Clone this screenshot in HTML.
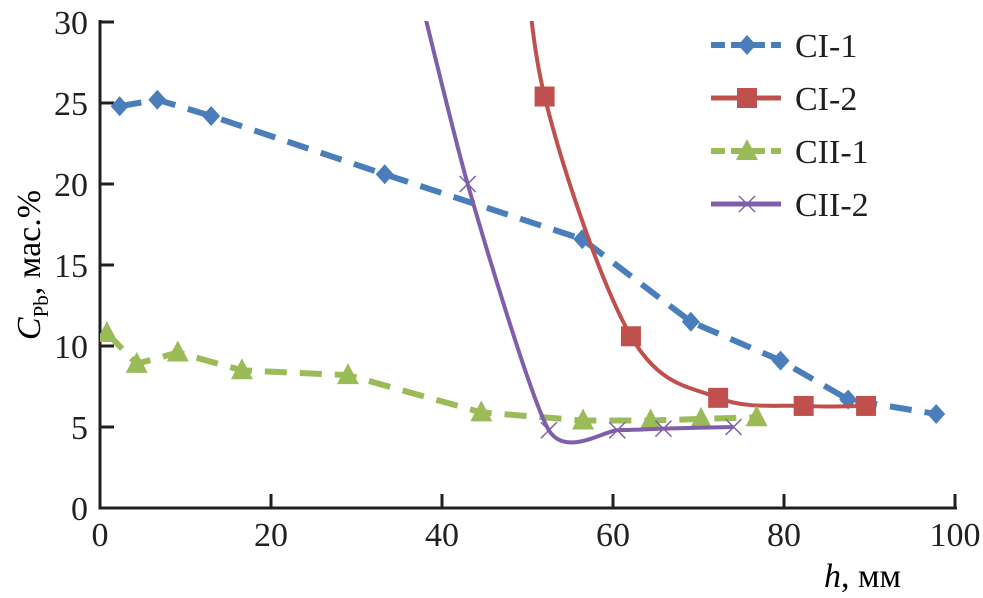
<!DOCTYPE html>
<html><head><meta charset="utf-8"><style>
body{margin:0;background:#fff;}
svg{display:block;font-family:"Liberation Serif",serif;}
</style></head><body>
<svg id="chart" width="983" height="598" viewBox="0 0 983 598">
<defs><clipPath id="plotclip"><rect x="100" y="21" width="860" height="487"/></clipPath></defs>
<g id="axes"></g>
<g id="series" clip-path="url(#plotclip)"></g>
<g id="legend"></g>
<text x="824" y="587" font-size="34"><tspan font-style="italic">h</tspan>, мм</text>
<text transform="translate(40,265) rotate(-90)" text-anchor="middle" font-size="34"><tspan font-style="italic">C</tspan><tspan font-size="21" dy="8">Pb</tspan><tspan dy="-8">, мас.%</tspan></text>
</svg>
<script>
const xTicks=[0,20,40,60,80,100];
const yTicks=[0,5,10,15,20,25,30];
const ci1X=[2.3,6.7,13,33.3,56.4,69.1,79.6,87.5,97.8];
const ci1Y=[24.8,25.2,24.2,20.6,16.6,11.5,9.1,6.7,5.8];
const ci2X=[49.3,52,62.1,72.3,82.3,89.6];
const ci2Y=[38,25.4,10.6,6.8,6.3,6.3];
const cii1X=[0.8,4.3,9.1,16.6,29,44.6,56.5,64.4,70.3,76.8];
const cii1Y=[10.8,8.9,9.6,8.5,8.2,5.9,5.4,5.4,5.5,5.6];
const cii2X=[34.5,43,52.5,60.5,65.9,74.1];
const cii2Y=[38,20,4.8,4.8,4.9,5.0];
const legendLabels=["CI-1","CI-2","CII-1","CII-2"];

const NS="http://www.w3.org/2000/svg";
const X0=100,X1=955,Y0=508,Y1=22;
function sx(v){return X0+(X1-X0)*v/100;}
function sy(v){return Y0-(Y0-Y1)*v/30;}
function mk(tag,attrs,parent){const e=document.createElementNS(NS,tag);for(const k in attrs)e.setAttribute(k,attrs[k]);parent.appendChild(e);return e;}
const axes=document.getElementById('axes'),ser=document.getElementById('series'),leg=document.getElementById('legend');

let ln=mk('path',{d:`M${X0},${Y1-2} V${Y0} H${X1+2}`,stroke:'#231f20','stroke-width':3,fill:'none'},axes);


xTicks.forEach(t=>{
 const l=mk('line',{x1:sx(t),x2:sx(t),y1:Y0,y2:Y0-14,stroke:'#231f20','stroke-width':3},axes);
 
 
 const tx=mk('text',{x:sx(t),y:Y0+38,'text-anchor':'middle','font-size':34,fill:'#231f20'},axes);
 tx.textContent=t;
 
 
});
yTicks.forEach(t=>{
 const l=mk('line',{x1:X0,x2:X0+14,y1:sy(t),y2:sy(t),stroke:'#231f20','stroke-width':3},axes);
 
 
 const tx=mk('text',{x:X0-12,y:sy(t)+12,'text-anchor':'end','font-size':34,fill:'#231f20'},axes);
 tx.textContent=t;
 
 
});

function linePath(xs,ys){return xs.map((x,i)=>(i?'L':'M')+sx(x)+','+sy(ys[i])).join(' ');}
function smoothPath(xs,ys,f){
 const p=xs.map((x,i)=>[sx(x),sy(ys[i])]);
 let d='M'+p[0][0]+','+p[0][1];
 for(let i=0;i<p.length-1;i++){
  const a=p[i-1]||p[i],b=p[i],c=p[i+1],e=p[i+2]||c;
  const c1=[b[0]+(c[0]-a[0])*f,b[1]+(c[1]-a[1])*f],c2=[c[0]-(e[0]-b[0])*f,c[1]-(e[1]-b[1])*f];
  d+=` C${c1[0]},${c1[1]} ${c2[0]},${c2[1]} ${c[0]},${c[1]}`;
 }
 return d;
}
function marker(kind,x,y,color,parent){
 let m;
 if(kind==='diamond')m=mk('path',{d:`M${x},${y-10} L${x+9},${y} L${x},${y+10} L${x-9},${y} Z`,fill:color},parent);
 else if(kind==='square')m=mk('rect',{x:x-10,y:y-10,width:20,height:20,fill:color},parent);
 else if(kind==='tri')m=mk('path',{d:`M${x},${y-12} L${x+11},${y+9} L${x-11},${y+9} Z`,fill:color},parent);
 else m=mk('path',{d:`M${x-8},${y-8} L${x+8},${y+8} M${x-8},${y+8} L${x+8},${y-8}`,stroke:color,'stroke-width':1.5,fill:'none'},parent);
 return m;
}
const defs=[
 {xs:ci1X,ys:ci1Y,c:'#4a7ebb',dash:'22 13',smooth:false,m:'diamond',name:'ci-1',skip:0,f:0},
 {xs:ci2X,ys:ci2Y,c:'#c0504d',dash:'',smooth:true,m:'square',name:'ci-2',skip:1,f:1/6},
 {xs:cii1X,ys:cii1Y,c:'#9bbb59',dash:'22 13',smooth:false,m:'tri',name:'cii-1',skip:0,f:0},
 {xs:cii2X,ys:cii2Y,c:'#7f5fa8',dash:'',smooth:true,m:'x',name:'cii-2',skip:1,f:1/9}
];
defs.forEach((s,k)=>{
 const g=mk('g',{},ser);
 
 
 const p=mk('path',{d:s.smooth?smoothPath(s.xs,s.ys,s.f):linePath(s.xs,s.ys),stroke:s.c,'stroke-width':s.smooth?4:6,fill:'none','stroke-dasharray':s.dash},g);
 
 
 s.xs.forEach((x,i)=>{if(i<s.skip)return;
  const m=marker(s.m,sx(x),sy(s.ys[i]),s.c,g);
  
  
 });
 const ly=45+k*53;
 const lg=mk('g',{},leg);
 
 
 mk('line',{x1:711,x2:781,y1:ly,y2:ly,stroke:s.c,'stroke-width':s.smooth?5:6,'stroke-dasharray':s.dash?'14 6':''},lg);
 marker(s.m,747,ly,s.c,lg);
 const t=mk('text',{x:795,y:ly+12,'font-size':34,fill:'#231f20'},lg);
 t.textContent=legendLabels[k];
});
</script>
</body></html>
